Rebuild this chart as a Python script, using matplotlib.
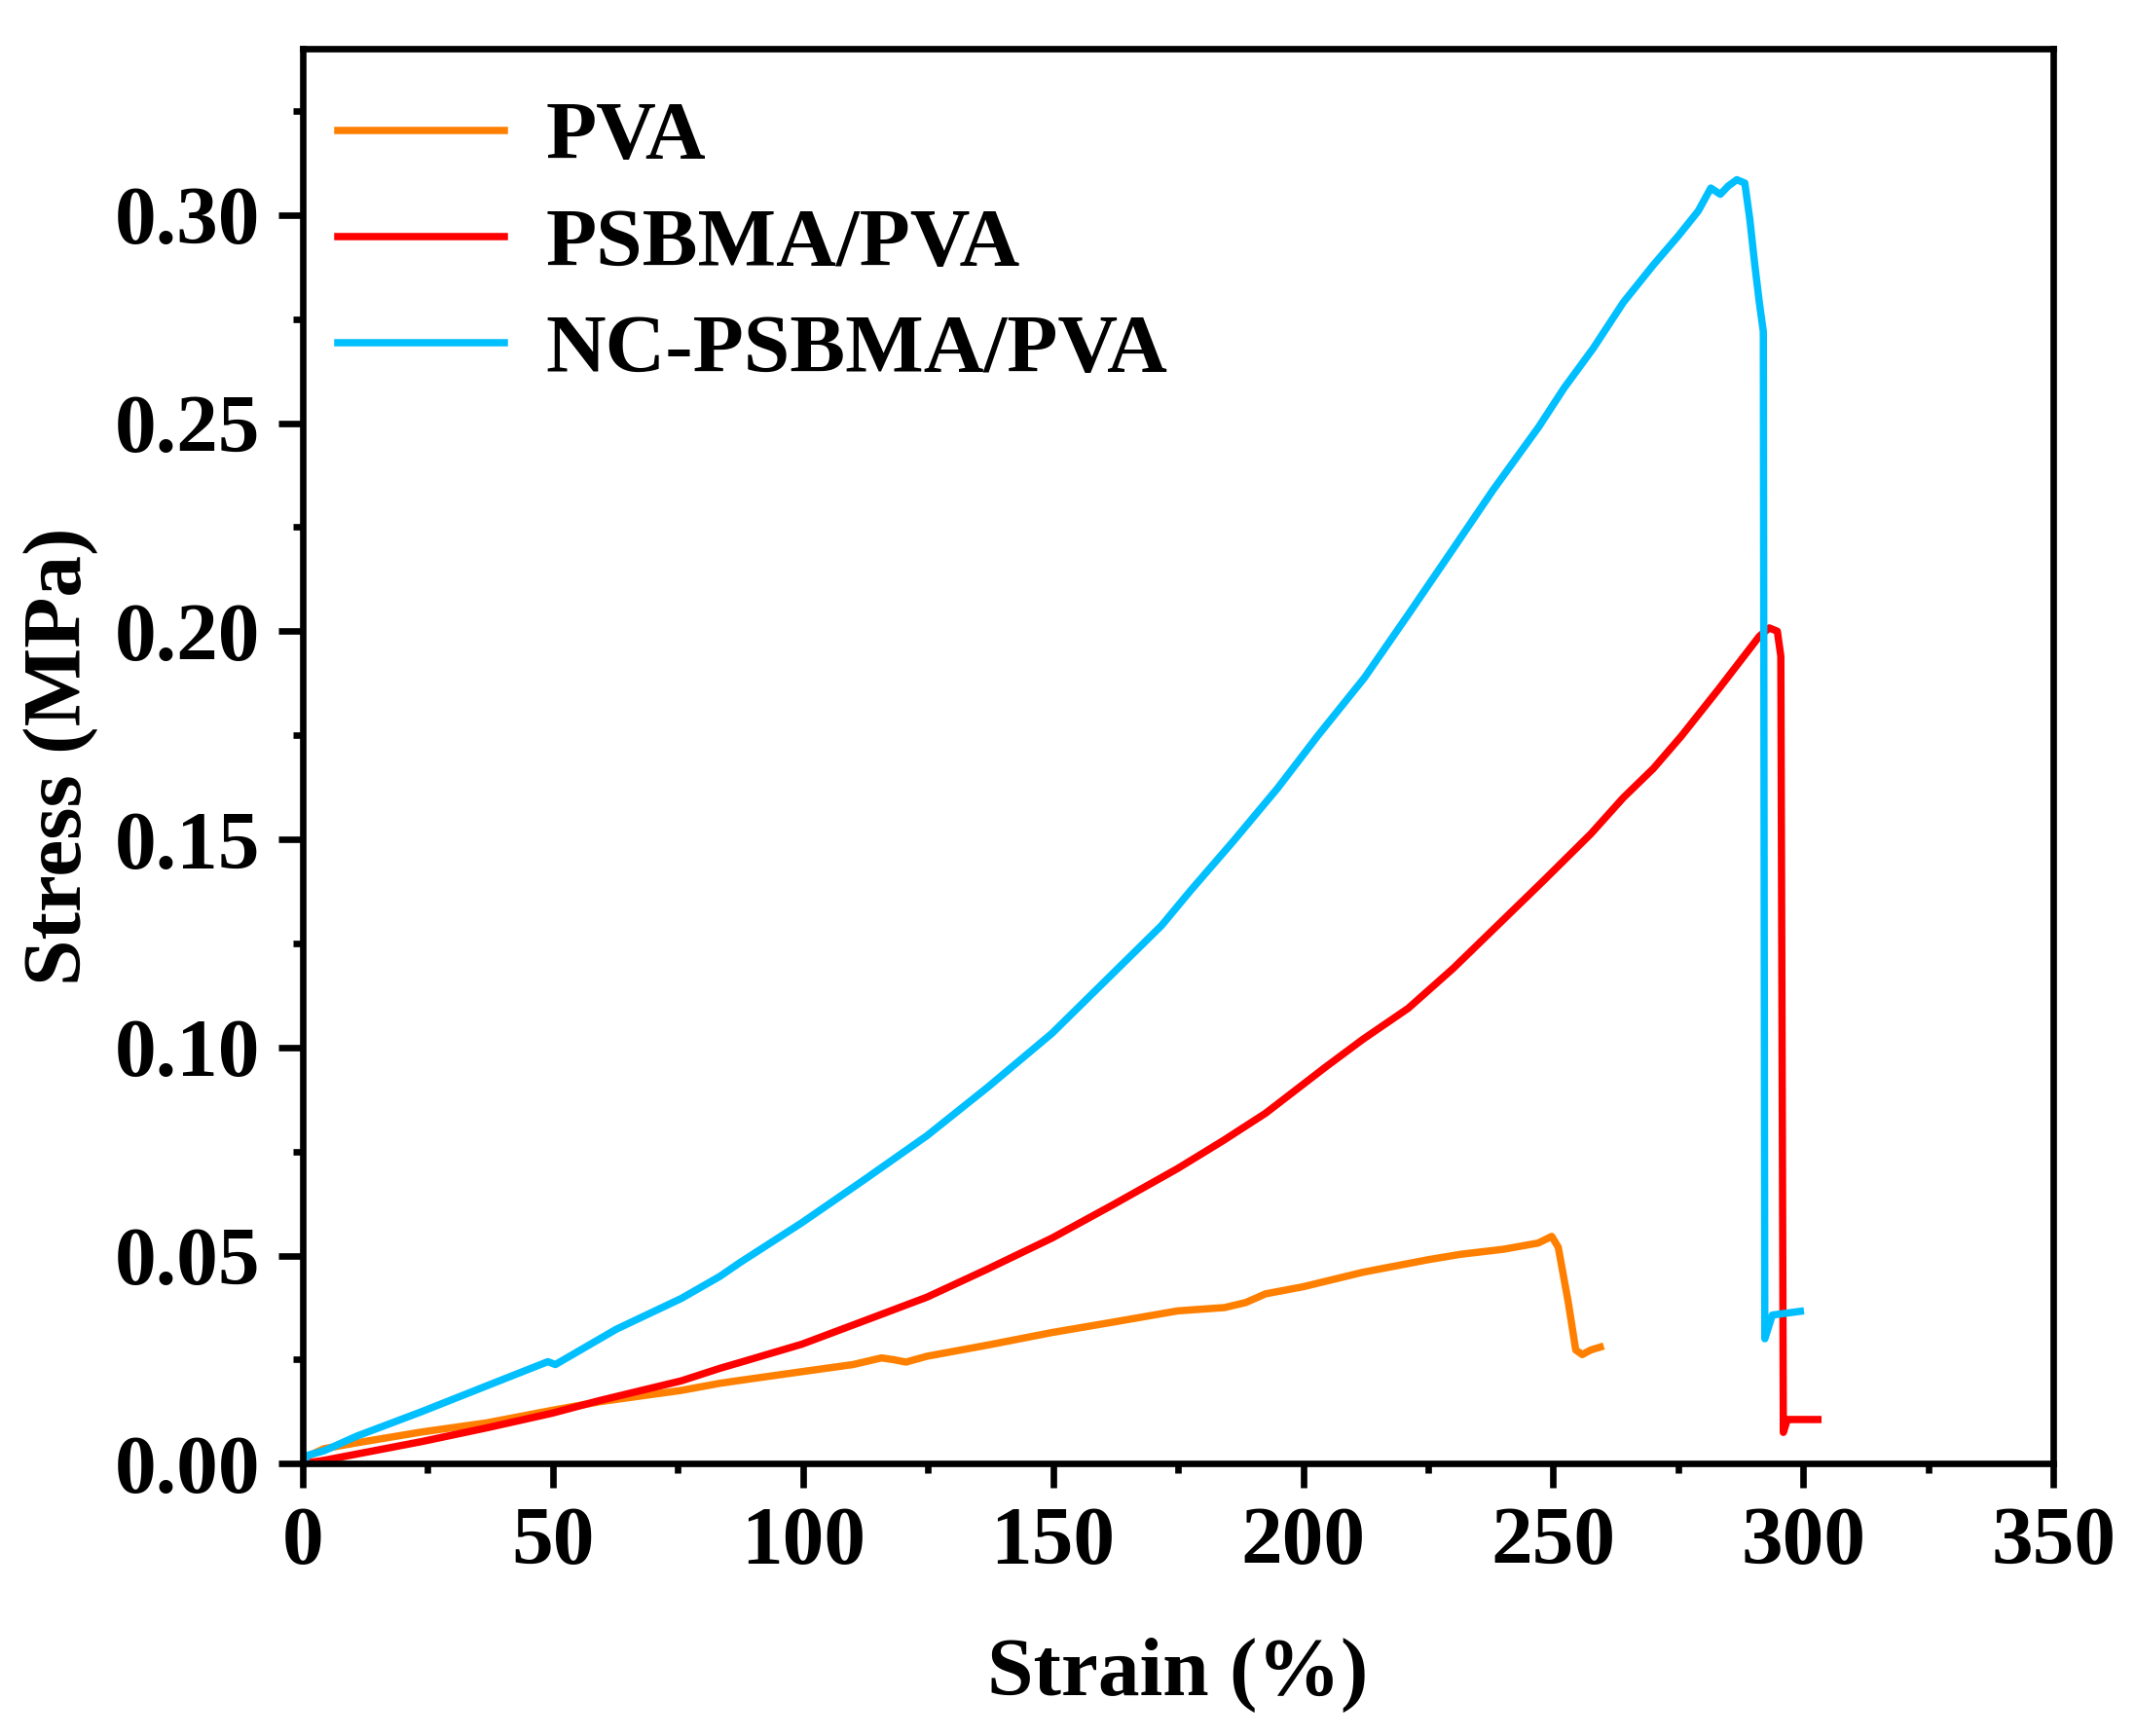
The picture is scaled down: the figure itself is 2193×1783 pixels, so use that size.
import numpy as np
import matplotlib
matplotlib.use("Agg")
import matplotlib.pyplot as plt
from matplotlib.ticker import MultipleLocator, FormatStrFormatter

plt.rcParams['font.family'] = ['Liberation Serif', 'DejaVu Serif']
plt.rcParams['font.weight'] = 'bold'
plt.rcParams['axes.labelweight'] = 'bold'

# ── Data (strain %, stress MPa) ────────────────────────────────
pva_strain = [0, 0.8, 4.3, 10.8, 23.8, 36.8, 49.8, 59.5, 75.7, 83.4, 87.4, 99.8,
              110, 115.7, 118, 120.6, 124.8, 137, 149.8, 162, 174.9, 184.3,
              188.5, 192.5, 200, 212, 225, 231.5, 240, 247, 249.7, 251, 253,
              254.5, 255.8, 257.5, 259.4]
pva_stress = [0, 0.0017, 0.0036, 0.0050, 0.0076, 0.0098, 0.0128, 0.0149, 0.0176,
              0.0193, 0.0200, 0.0221, 0.0238, 0.0254, 0.0250, 0.0244, 0.0258,
              0.0285, 0.0315, 0.0340, 0.0367, 0.0375, 0.0387, 0.0408, 0.0425,
              0.0460, 0.0490, 0.0503, 0.0515, 0.0530, 0.0546, 0.0520, 0.0388,
              0.0273, 0.0262, 0.0273, 0.0280]

psbma_strain = [0, 4.3, 10.8, 23.8, 36.8, 49.8, 59.5, 75.7, 83.4, 87.4, 99.8,
                112, 124.8, 137, 149.8, 162, 174.9, 184, 192.5, 204.5, 212,
                221, 230, 238.4, 248, 257.5, 264, 270, 275.6, 283, 291.2, 293.2,
                294.8, 295.5, 296.0, 296.8, 302.9]
psbma_stress = [0, 0.0008, 0.0023, 0.0053, 0.0086, 0.0121, 0.0152, 0.0199,
                0.0229, 0.0243, 0.0287, 0.0342, 0.0400, 0.0468, 0.0542, 0.0622,
                0.0709, 0.0776, 0.0842, 0.0953, 0.1020, 0.1094, 0.1190, 0.1288,
                0.1400, 0.1513, 0.1600, 0.1670, 0.1748, 0.1860, 0.1988, 0.2008,
                0.2000, 0.1940, 0.0075, 0.0106, 0.0106]

nc_strain = [0, 1, 4.3, 10.8, 23.8, 36.8, 49.0, 50.5, 62.7, 75.7, 83.4, 87.4,
             99.8, 112, 124.8, 137, 149.8, 160.2, 171.7, 177.5, 186, 194.9,
             203, 212.3, 221, 229.7, 238, 247.1, 252.2, 258, 264, 270, 275,
             279, 281.5, 283.4, 285, 286.7, 288.3, 289.3, 290.3, 291.2, 292.0,
             292.3, 293.8, 299.4]
nc_stress = [0, 0.0020, 0.0031, 0.0066, 0.0125, 0.0187, 0.0245, 0.0238, 0.0323,
             0.0397, 0.0450, 0.0483, 0.0579, 0.0680, 0.0788, 0.0905, 0.1034,
             0.1157, 0.1293, 0.1377, 0.1495, 0.1623, 0.1750, 0.1889, 0.2040,
             0.2193, 0.2340, 0.2491, 0.2585, 0.2680, 0.2790, 0.2880, 0.2950,
             0.3010, 0.3065, 0.3050, 0.3070, 0.3085, 0.3077, 0.2990, 0.2880,
             0.2790, 0.2720, 0.0300, 0.0357, 0.0366]

labels = ['PVA', 'PSBMA/PVA', 'NC-PSBMA/PVA']
colors = ['#FF8000', '#FF0000', '#00BFFF']
fs = 20.5

fig = plt.figure(figsize=(2193 / 300, 1783 / 300), dpi=300)
ax = fig.add_axes([0.1418, 0.1569, 0.82, 0.8151])

ax.plot(pva_strain, pva_stress, color=colors[0], lw=1.8, label=labels[0])
ax.plot(psbma_strain, psbma_stress, color=colors[1], lw=1.8, label=labels[1])
ax.plot(nc_strain, nc_stress, color=colors[2], lw=1.8, label=labels[2])

ax.set_xlim(0, 350)
ax.set_ylim(0, 0.34)
ax.xaxis.set_major_locator(MultipleLocator(50))
ax.xaxis.set_minor_locator(MultipleLocator(25))
ax.yaxis.set_major_locator(MultipleLocator(0.05))
ax.yaxis.set_minor_locator(MultipleLocator(0.025))
ax.yaxis.set_major_formatter(FormatStrFormatter('%.2f'))

for s in ax.spines.values():
    s.set_linewidth(1.6)
ax.tick_params(which='major', direction='out', length=6, width=1.6,
               labelsize=fs, pad=4.5)
ax.tick_params(which='minor', direction='out', length=2.5, width=1.6)

ax.set_xlabel('Strain (%)', fontsize=fs, labelpad=14)
ax.set_ylabel('Stress (MPa)', fontsize=fs, labelpad=4)

ax.legend(loc='upper left', bbox_to_anchor=(0.02, 0.963), frameon=False,
          fontsize=fs, handlelength=2.0, handletextpad=0.5,
          labelspacing=0.37, borderpad=0, borderaxespad=0)

plt.savefig('out.png', dpi=300)
plt.close()
